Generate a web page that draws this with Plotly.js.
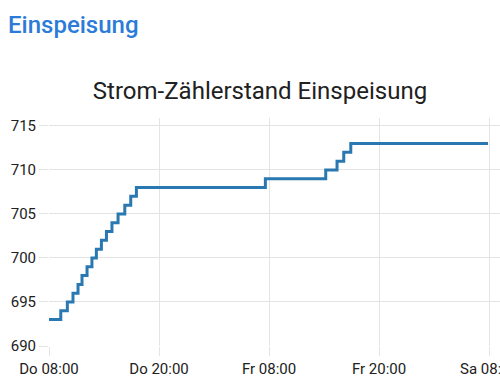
<!DOCTYPE html>
<html>
<head>
<meta charset="utf-8">
<script src="https://cdn.plot.ly/plotly-3.0.1.min.js"></script>
<style>
  html, body { margin: 0; padding: 0; width: 500px; height: 383px; overflow: hidden; background: #fff; }
  #header { position: absolute; left: 8px; top: 9px; z-index: 10; font-family: Roboto, sans-serif; font-size: 24px; font-weight: 500; color: #2b7bd8; line-height: 32px; }
  #chart { position: absolute; left: 0; top: 0; width: 520px; height: 383px; }
</style>
</head>
<body>
<div id="chart"></div>
<div id="header">Einspeisung</div>
<script>
// Zeitpunkte der Zählerstandsänderungen
const times = [
  "2024-05-16 08:00", "2024-05-16 09:17", "2024-05-16 10:00", "2024-05-16 10:37",
  "2024-05-16 11:10", "2024-05-16 11:36", "2024-05-16 12:09", "2024-05-16 12:41",
  "2024-05-16 13:10", "2024-05-16 13:43", "2024-05-16 14:16", "2024-05-16 14:52",
  "2024-05-16 15:32", "2024-05-16 16:16", "2024-05-16 16:55", "2024-05-16 17:32",
  "2024-05-17 07:36", "2024-05-17 14:11", "2024-05-17 15:25", "2024-05-17 16:09",
  "2024-05-17 16:55", "2024-05-18 07:53"
];
// Zählerstand (kWh)
const values = [
  693, 694, 695, 696,
  697, 698, 699, 700,
  701, 702, 703, 704,
  705, 706, 707, 708,
  709, 710, 711, 712,
  713, 713
];
const tickVals = ["2024-05-16 08:00", "2024-05-16 20:00", "2024-05-17 08:00", "2024-05-17 20:00", "2024-05-18 08:00"];
const tickText = ["Do 08:00", "Do 20:00", "Fr 08:00", "Fr 20:00", "Sa 08:00"];
const chartTitle = "Strom-Zählerstand Einspeisung";

const trace = {
  x: times,
  y: values,
  type: "scatter",
  mode: "lines",
  line: { shape: "hv", color: "#2a78b2", width: 3 },
  hoverinfo: "skip"
};

const gridColor = "#e4e4e4";
const layout = {
  width: 520,
  height: 383,
  margin: { l: 49, r: 10, t: 118, b: 37 },
  paper_bgcolor: "#ffffff",
  plot_bgcolor: "#ffffff",
  showlegend: false,
  font: { family: "Roboto, sans-serif", size: 15, color: "#212121" },
  title: {
    text: chartTitle,
    x: 0.5, xref: "container", xanchor: "center",
    y: 1 - 91 / 383, yref: "container", yanchor: "middle",
    font: { family: "Roboto, sans-serif", size: 24, color: "#212121" }
  },
  xaxis: {
    type: "date",
    range: ["2024-05-16 08:00", "2024-05-18 10:17"],
    tickmode: "array",
    tickvals: tickVals,
    ticktext: tickText,
    showgrid: true, gridcolor: gridColor, gridwidth: 1,
    ticks: "outside", ticklen: 9, tickcolor: gridColor,
    zeroline: false, showline: false,
    tickfont: { family: "Roboto, sans-serif", size: 15, color: "#212121" }
  },
  yaxis: {
    range: [690, 715.9],
    tickmode: "linear", tick0: 690, dtick: 5,
    showgrid: true, gridcolor: gridColor, gridwidth: 1,
    ticks: "outside", ticklen: 9, tickcolor: gridColor,
    zeroline: false, showline: false,
    tickfont: { family: "Roboto, sans-serif", size: 15, color: "#212121" }
  }
};

Plotly.newPlot("chart", [trace], layout, { displayModeBar: false, staticPlot: true });
</script>
</body>
</html>
